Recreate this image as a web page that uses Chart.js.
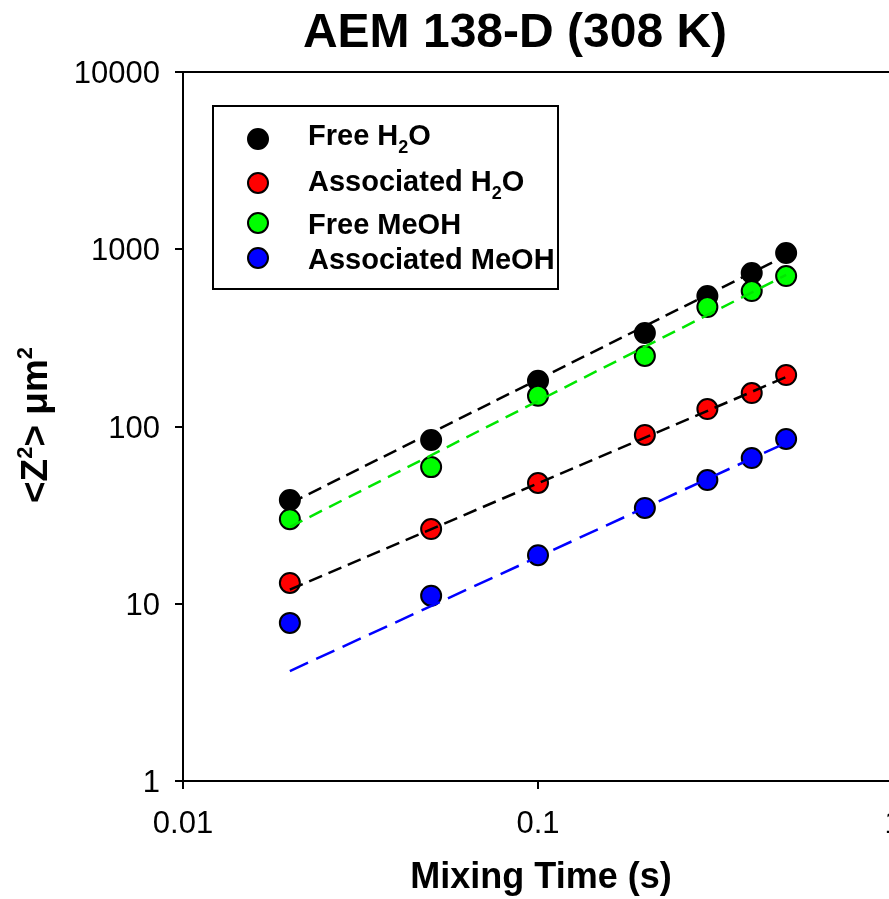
<!DOCTYPE html>
<html>
<head>
<meta charset="utf-8">
<script src="https://cdn.jsdelivr.net/npm/chart.js@4.4.1/dist/chart.umd.min.js"></script>
<style>
  html, body { margin: 0; padding: 0; background: #fff; overflow: hidden; }
  #chart { display: block; }
</style>
</head>
<body>
<canvas id="chart" width="900" height="899"></canvas>
<script>
const mixTimes = [0.02, 0.05, 0.1, 0.2, 0.3, 0.4, 0.5];
const freeH2O = [38.5, 84, 181, 337, 545, 735, 952];
const assocH2O = [13.1, 26.4, 48, 89.6, 125.5, 154.5, 195];
const freeMeOH = [30, 59, 149, 250, 472, 581, 706];
const assocMeOH = [7.8, 11.1, 18.8, 34.7, 49.9, 66.4, 85];

// dashed fit lines (end values)
const fitTimes = [0.02, 0.5];
const fitFreeH2O = [36.8, 922];
const fitAssocH2O = [12.0, 190];
const fitFreeMeOH = [27.1, 716];
const fitAssocMeOH = [4.17, 81];

const xTickVals = [0.01, 0.1, 1];
const xTickLabels = ["0.01", "0.1", "1"];
const yTickVals = [1, 10, 100, 1000, 10000];
const yTickLabels = ["1", "10", "100", "1000", "10000"];

const chartTitle = "AEM 138-D (308 K)";
const xTitle = "Mixing Time (s)";
// [text, subscript, text]
const legendNames = [
  ["Free H", "2", "O"],
  ["Associated H", "2", "O"],
  ["Free MeOH", "", ""],
  ["Associated MeOH", "", ""]
];

const FONT = '"Liberation Sans", Arial, sans-serif';
const fills = ["#000000", "#ff0000", "#00ff00", "#0000ff"];

function pts(xs, ys) {
  return xs.map((x, i) => ({ x: x, y: ys[i] }));
}

function dots(data, fill, order) {
  return {
    data: pts(mixTimes, data),
    showLine: false,
    pointRadius: 10,
    pointHoverRadius: 10,
    pointBackgroundColor: fill,
    pointBorderColor: "#000",
    pointBorderWidth: 2,
    order: order
  };
}

function fit(data, color, dash) {
  return {
    data: pts(fitTimes, data),
    showLine: true,
    pointRadius: 0,
    borderColor: color,
    borderWidth: 2.5,
    borderDash: dash,
    fill: false,
    order: 0
  };
}

const sigmaText = {
  id: "sigmaText",
  afterDraw(chart) {
    const ctx = chart.ctx;
    const a = chart.chartArea;
    const xs = chart.scales.x;
    const ys = chart.scales.y;
    ctx.save();

    // top and right frame
    ctx.strokeStyle = "#000";
    ctx.lineWidth = 2;
    ctx.beginPath();
    ctx.moveTo(a.left, a.top);
    ctx.lineTo(a.right, a.top);
    ctx.lineTo(a.right, a.bottom);
    ctx.stroke();

    ctx.fillStyle = "#000";
    ctx.textBaseline = "alphabetic";

    // tick labels
    ctx.font = "31px " + FONT;
    ctx.textAlign = "right";
    yTickVals.forEach((v, i) => {
      ctx.fillText(yTickLabels[i], 160, ys.getPixelForValue(v) + 11);
    });
    ctx.textAlign = "center";
    xTickVals.forEach((v, i) => {
      ctx.fillText(xTickLabels[i], xs.getPixelForValue(v), 833);
    });

    // titles
    ctx.font = "bold 48px " + FONT;
    ctx.fillText(chartTitle, 515, 47);
    ctx.font = "bold 36px " + FONT;
    ctx.fillText(xTitle, 541, 888);

    // y title, rotated, with superscripts
    const big = "bold 37px " + FONT;
    const small = "bold 22px " + FONT;
    const parts = [["<Z", big, 0], ["2", small, -15], ["> \u03bcm", big, 0], ["2", small, -15]];
    let total = 0;
    parts.forEach(p => { ctx.font = p[1]; total += ctx.measureText(p[0]).width; });
    ctx.translate(47, 425);
    ctx.rotate(-Math.PI / 2);
    ctx.textAlign = "left";
    let px = -total / 2;
    parts.forEach(p => {
      ctx.font = p[1];
      ctx.fillText(p[0], px, p[2]);
      px += ctx.measureText(p[0]).width;
    });
    ctx.setTransform(1, 0, 0, 1, 0, 0);

    // legend
    ctx.lineWidth = 2;
    ctx.strokeRect(213, 106, 345, 183);
    const rowY = [139, 183, 223, 258];
    const baseY = [145, 191, 234, 269];
    legendNames.forEach((name, i) => {
      ctx.beginPath();
      ctx.arc(258, rowY[i], 10, 0, Math.PI * 2);
      ctx.fillStyle = fills[i];
      ctx.fill();
      ctx.strokeStyle = "#000";
      ctx.stroke();
      ctx.fillStyle = "#000";
      let tx = 308;
      ctx.font = "bold 29px " + FONT;
      ctx.fillText(name[0], tx, baseY[i]);
      tx += ctx.measureText(name[0]).width;
      if (name[1]) {
        ctx.font = "bold 18px " + FONT;
        ctx.fillText(name[1], tx, baseY[i] + 8);
        tx += ctx.measureText(name[1]).width;
        ctx.font = "bold 29px " + FONT;
        ctx.fillText(name[2], tx, baseY[i]);
      }
    });

    ctx.restore();
  }
};

function logAxis(pos, min, max, tickVals) {
  return {
    type: "logarithmic",
    position: pos,
    min: min,
    max: max,
    afterBuildTicks: (s) => { s.ticks = tickVals.map(v => ({ value: v })); },
    ticks: { display: false },
    grid: { display: true, drawOnChartArea: false, drawTicks: true, tickLength: 8, color: "#000", lineWidth: 2 },
    border: { display: true, color: "#000", width: 2 },
    title: { display: false }
  };
}

// canvas is a bit wider than the window: x = 1 sits just past the right edge
new Chart(document.getElementById("chart").getContext("2d"), {
  type: "scatter",
  data: {
    datasets: [
      dots(freeH2O, fills[0], 4),
      dots(assocH2O, fills[1], 3),
      dots(freeMeOH, fills[2], 2),
      dots(assocMeOH, fills[3], 1),
      fit(fitFreeH2O, "#000000", [14, 7]),
      fit(fitAssocH2O, "#000000", [14, 7]),
      fit(fitFreeMeOH, "#00e600", [14, 8]),
      fit(fitAssocMeOH, "#0000ff", [20, 9])
    ]
  },
  options: {
    responsive: false,
    animation: false,
    devicePixelRatio: 1,
    layout: { autoPadding: false, padding: { left: 175, right: 7, top: 72, bottom: 110 } },
    plugins: {
      legend: { display: false },
      tooltip: { enabled: false },
      title: { display: false }
    },
    scales: {
      x: logAxis("bottom", 0.01, 1, xTickVals),
      y: logAxis("left", 1, 10000, yTickVals)
    }
  },
  plugins: [sigmaText]
});
</script>
</body>
</html>
